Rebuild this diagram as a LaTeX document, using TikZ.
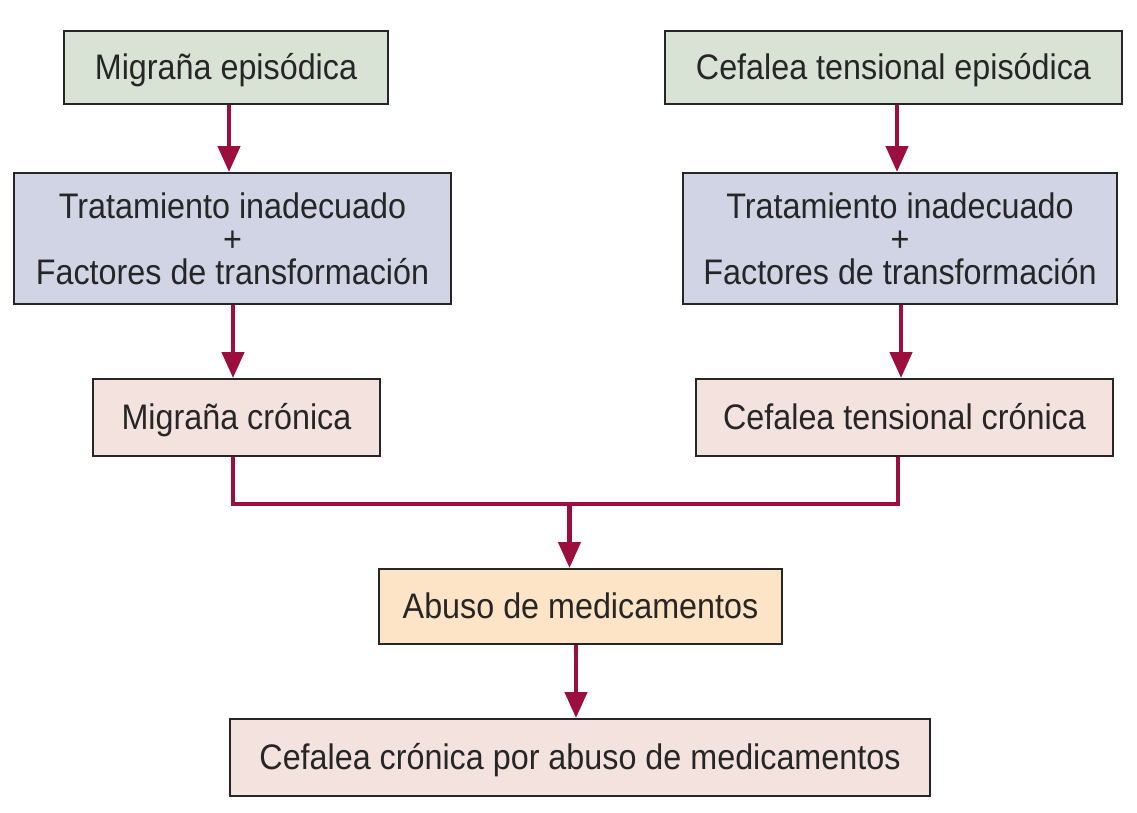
\documentclass[tikz,border=0pt]{standalone}
\usepackage{fontspec}
\setmainfont{Liberation Sans}[FakeStretch=0.91]
\usetikzlibrary{arrows.meta,calc}
\definecolor{cgreen}{HTML}{D9E3D5}
\definecolor{cblue}{HTML}{D0D4E4}
\definecolor{cpink}{HTML}{F4E2DF}
\definecolor{corange}{HTML}{FDE4C6}
\definecolor{cred}{HTML}{9B0E3E}
\begin{document}
\begin{tikzpicture}[x=1pt,y=-1pt,
  box/.style={draw=black!85,line width=2pt,inner sep=0pt,anchor=north west,
    font=\fontsize{35.5}{33}\selectfont,align=center,text=black!85},
  single/.style={box,text height=32pt,text depth=9pt},
  arr/.style={draw=cred,line width=4.5pt,-{Triangle[length=26pt,width=22pt]}},
  con/.style={draw=cred,line width=4.5pt}]
\useasboundingbox (0,0) rectangle (1137,812);
\node[single,fill=cgreen,minimum width=324pt,minimum height=73pt] (A1) at (63,30) {Migraña episódica};
\node[single,fill=cgreen,minimum width=457pt,minimum height=73pt] (A2) at (664,30) {Cefalea tensional episódica};
\node[box,fill=cblue,minimum width=437pt,minimum height=131pt] (B1) at (13,172) {Tratamiento inadecuado\\+\\Factores de transformación};
\node[box,fill=cblue,minimum width=434pt,minimum height=131pt] (B2) at (682,172) {Tratamiento inadecuado\\+\\Factores de transformación};
\node[single,fill=cpink,minimum width=287pt,minimum height=77pt] (C1) at (92,378) {Migraña crónica};
\node[single,fill=cpink,minimum width=417pt,minimum height=77pt] (C2) at (695,378) {Cefalea tensional crónica};
\node[single,fill=corange,minimum width=403pt,minimum height=75pt] (D) at (378,568) {Abuso de medicamentos};
\node[single,fill=cpink,minimum width=700pt,minimum height=77pt] (E) at (229,718) {Cefalea crónica por abuso de medicamentos};
\coordinate (M) at ($(D.north)+(-11,-64)$);
\draw[arr] ([xshift=3pt]A1.south) -- ([xshift=3pt]A1.south |- B1.north);
\draw[arr] ([xshift=3.5pt]A2.south) -- ([xshift=3.5pt]A2.south |- B2.north);
\draw[arr] ([xshift=0.5pt]B1.south) -- ([xshift=0.5pt]B1.south |- C1.north);
\draw[arr] ([xshift=1pt]B2.south) -- ([xshift=1pt]B2.south |- C2.north);
\draw[con] ([xshift=-3.5pt]C1.south) |- (M) -| ([xshift=-6.5pt]C2.south);
\draw[arr] (M) -- (M |- D.north);
\draw[arr] ([xshift=-4.5pt]D.south) -- ([xshift=-4.5pt]D.south |- E.north);
\end{tikzpicture}
\end{document}
